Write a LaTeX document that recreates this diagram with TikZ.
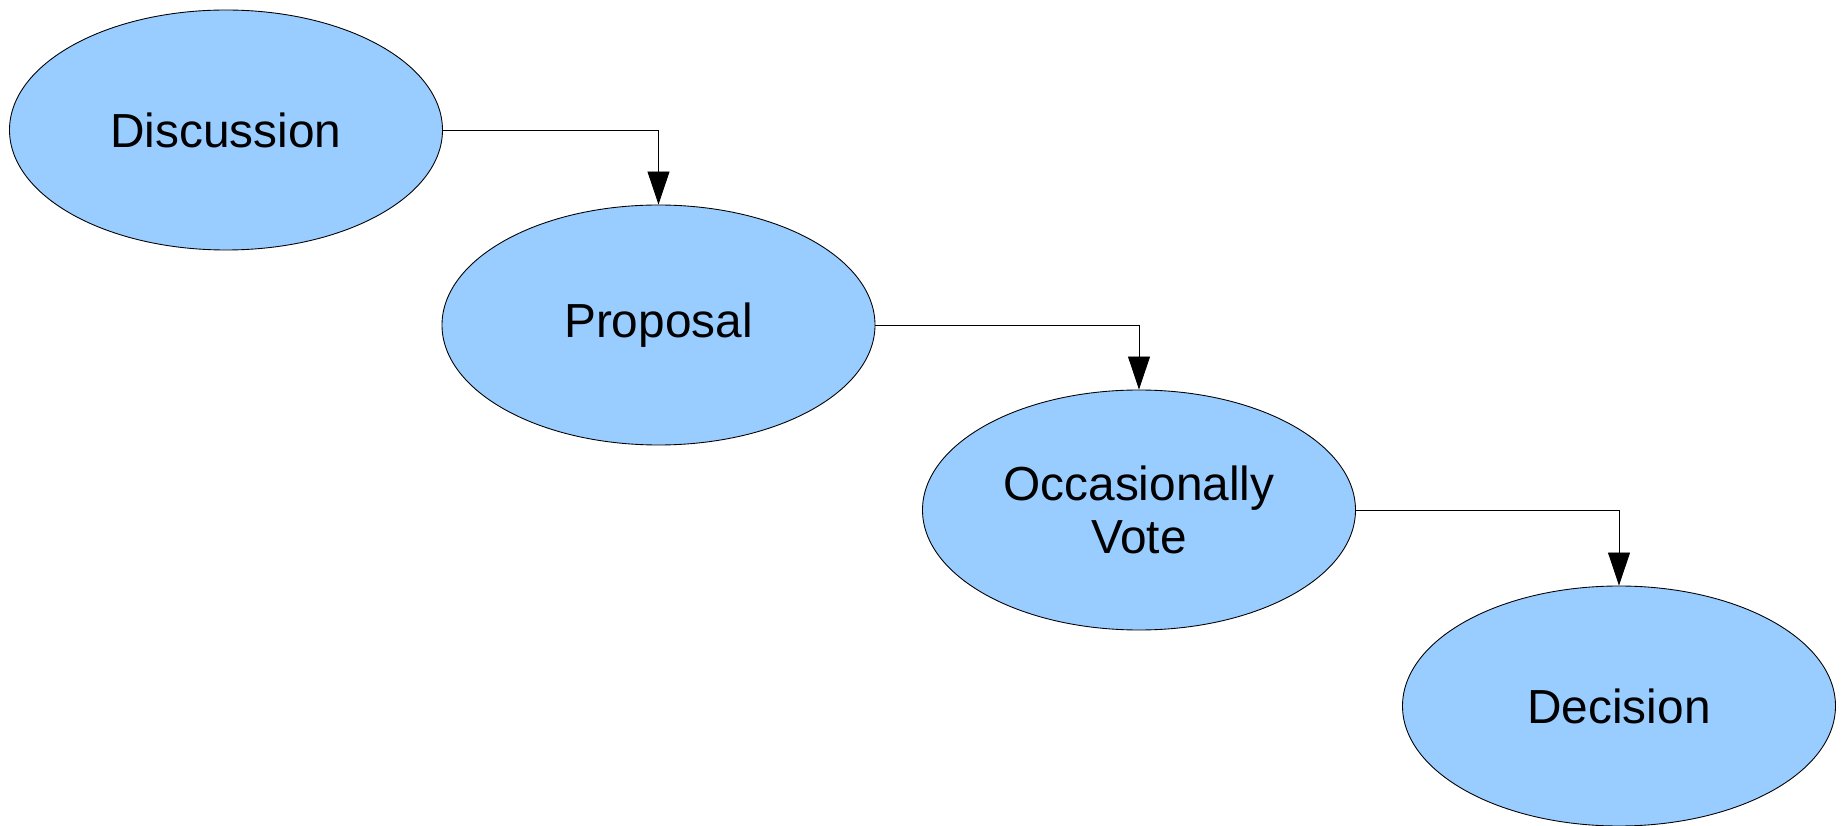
\documentclass[tikz,border=0pt]{standalone}
\usepackage{fontspec}
\setmainfont{Liberation Sans}
\usepackage{xcolor}
\usepackage{tikz}
\usetikzlibrary{positioning,arrows.meta,shapes.geometric}

\definecolor{stepblue}{HTML}{99CCFF}

\tikzset{
  stage/.style={ellipse,draw=black,line width=0.5pt,fill=stepblue,
    minimum width=8.66cm,minimum height=4.8cm,inner sep=0pt,
    align=center,font=\fontsize{27.2}{30}\selectfont},
  flow/.style={draw=black,line width=0.5pt,
    -{Triangle[length=18.8pt,width=12.5pt]}}
}

\begin{document}
\begin{tikzpicture}
  % fix the page to the reference's margins
  \useasboundingbox (0,0) rectangle (36.82,-16.52);
  % the four stages, stepping down to the right
  \node[stage] (disc) at (4.52,-2.60) {Discussion};
  \node[stage] (prop) at (13.17,-6.50) {Proposal};
  \node[stage] (vote) at (22.78,-10.20) {Occasionally\\Vote};
  \node[stage] (dec) at (32.38,-14.12) {Decision};
  % elbow connectors from each stage into the next
  \draw[flow] (disc.east) -| (prop.north);
  \draw[flow] (prop.east) -| (vote.north);
  \draw[flow] (vote.east) -| (dec.north);
\end{tikzpicture}
\end{document}
